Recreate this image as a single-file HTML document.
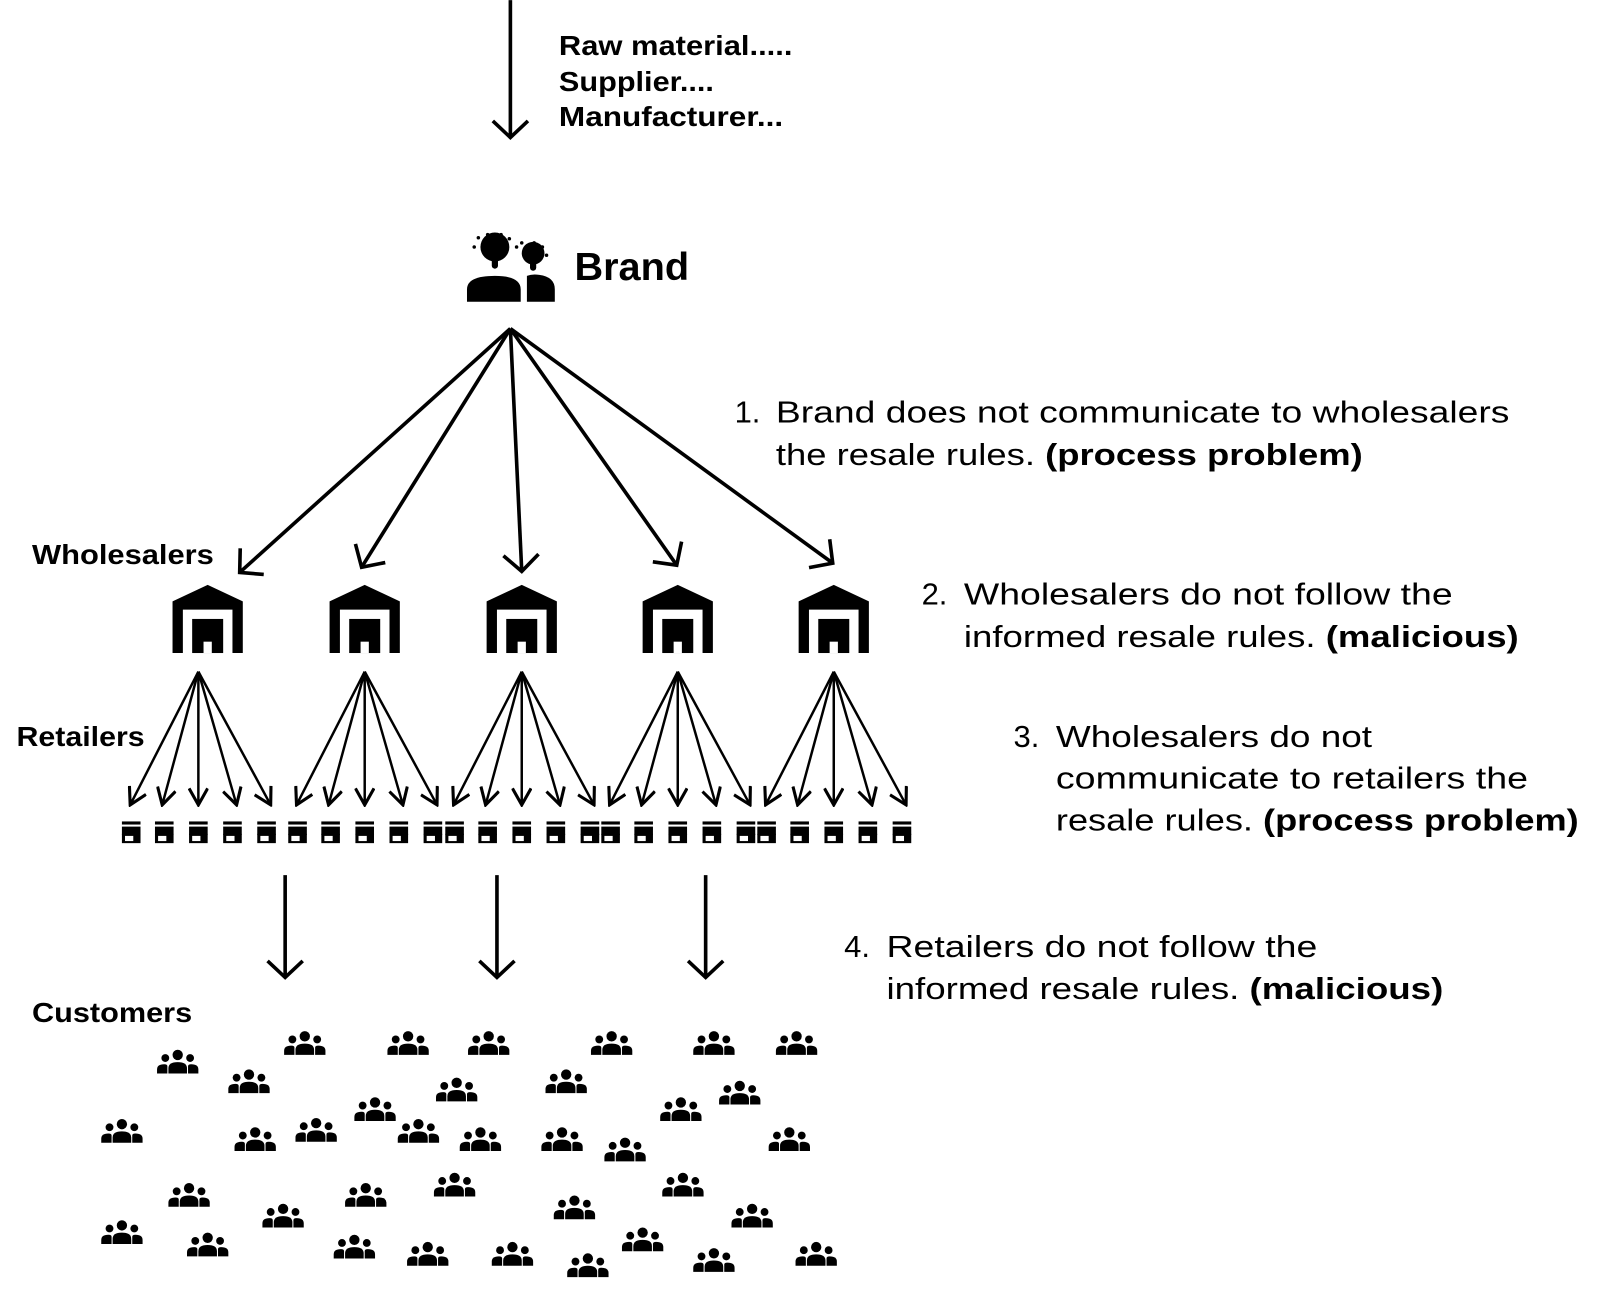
<!DOCTYPE html>
<html><head><meta charset="utf-8"><style>
html,body{margin:0;padding:0;background:#fff;}
svg{display:block;}
text{font-family:"Liberation Sans",sans-serif;fill:#000;}
.b{font-weight:bold;}
</style></head><body>
<svg width="1620" height="1304" viewBox="0 0 1568 1262" xmlns="http://www.w3.org/2000/svg">
<defs>
<g id="wh">
<path d="M-34,66 V16 L0,0 L34,16 V66 H24 V24 H-24 V66 Z" fill="#000"/>
<rect x="-15" y="33" width="30" height="33" fill="#000"/>
<rect x="-4" y="55" width="8" height="11" fill="#fff"/>
</g>
<g id="shop">
<rect x="-9" y="0" width="18" height="3" fill="#000"/>
<rect x="-9" y="5" width="18" height="8" fill="#000"/>
<rect x="-9" y="12" width="18" height="9" fill="#000"/>
<rect x="-6" y="14" width="8" height="5" fill="#fff"/>
</g>
<g id="cu">
<circle cx="0" cy="-7" r="5"/>
<circle cx="-12" cy="-4" r="3.8"/>
<circle cx="12" cy="-4" r="3.8"/>
<path d="M-9,11 V6 Q-9,0 0,0 Q9,0 9,6 V11 Z"/>
<path d="M-20,11 V7 Q-20,2 -13,2 Q-10,2 -10,4 V11 Z"/>
<path d="M20,11 V7 Q20,2 13,2 Q10,2 10,4 V11 Z"/>
</g>
<marker id="ah" viewBox="0 0 20 20" refX="18" refY="10" markerWidth="20" markerHeight="20" markerUnits="userSpaceOnUse" orient="auto">
<path d="M2,1 L18,10 L2,19" fill="none" stroke="#000" stroke-width="3"/>
</marker>
<marker id="ah2" viewBox="0 0 40 40" refX="36" refY="20" markerWidth="40" markerHeight="40" markerUnits="userSpaceOnUse" orient="auto">
<path d="M20,3 L36,20 L20,37" fill="none" stroke="#000" stroke-width="3.5"/>
</marker>
</defs>

<line x1="494" y1="0" x2="494" y2="133" stroke="#000" stroke-width="3.5" marker-end="url(#ah2)"/>
<text class="b" x="541" y="53" font-size="27" textLength="226" lengthAdjust="spacingAndGlyphs">Raw material.....</text>
<text class="b" x="541" y="88" font-size="27" textLength="150" lengthAdjust="spacingAndGlyphs">Supplier....</text>
<text class="b" x="541" y="122" font-size="27" textLength="217" lengthAdjust="spacingAndGlyphs">Manufacturer...</text>

<g fill="#000">
<circle cx="479" cy="239" r="14"/>
<rect x="476" y="248" width="6" height="12" rx="3"/>
<circle cx="516" cy="245" r="11"/>
<rect x="513" y="252" width="6" height="10" rx="3"/>
<path d="M452,292 V280 Q452,267 479,267 Q504,267 504,280 V292 Z"/>
<path d="M510,292 V267 Q515,265 522,266 Q537,268 537,280 V292 Z"/>
<circle cx="463" cy="230" r="1.7"/><circle cx="472" cy="227" r="1.7"/>
<circle cx="459" cy="239" r="1.7"/><circle cx="485" cy="227" r="1.7"/>
<circle cx="493" cy="231" r="1.7"/><circle cx="500" cy="239" r="1.7"/>
<circle cx="505" cy="235" r="1.7"/><circle cx="517" cy="235" r="1.7"/>
<circle cx="525" cy="239" r="1.7"/><circle cx="529" cy="247" r="1.7"/>
</g>
<text class="b" x="556" y="271" font-size="38" textLength="111" lengthAdjust="spacingAndGlyphs">Brand</text>

<g stroke="#000" stroke-width="3.5" marker-end="url(#ah2)">
<line x1="494" y1="318" x2="232" y2="554"/>
<line x1="494" y1="318" x2="350" y2="549"/>
<line x1="494" y1="318" x2="505" y2="553"/>
<line x1="494" y1="318" x2="655" y2="547"/>
<line x1="494" y1="318" x2="806" y2="545"/>
</g>

<text class="b" x="31" y="546" font-size="27" textLength="176" lengthAdjust="spacingAndGlyphs">Wholesalers</text>
<text class="b" x="16" y="722" font-size="27" textLength="124" lengthAdjust="spacingAndGlyphs">Retailers</text>
<text class="b" x="31" y="989" font-size="27" textLength="155" lengthAdjust="spacingAndGlyphs">Customers</text>

<use href="#wh" x="201" y="566"/>
<use href="#wh" x="353" y="566"/>
<use href="#wh" x="505" y="566"/>
<use href="#wh" x="656" y="566"/>
<use href="#wh" x="807" y="566"/>

<g id="fan" stroke="#000" stroke-width="2.4" marker-end="url(#ah)">
<line x1="192" y1="650" x2="126" y2="779"/>
<line x1="192" y1="650" x2="157" y2="779"/>
<line x1="192" y1="650" x2="192" y2="779"/>
<line x1="192" y1="650" x2="229" y2="779"/>
<line x1="192" y1="650" x2="262" y2="779"/>
</g>
<use href="#fan" x="161" y="0"/>
<use href="#fan" x="313" y="0"/>
<use href="#fan" x="464" y="0"/>
<use href="#fan" x="615" y="0"/>

<g id="shops">
<use href="#shop" x="127" y="795"/>
<use href="#shop" x="159" y="795"/>
<use href="#shop" x="192" y="795"/>
<use href="#shop" x="225" y="795"/>
<use href="#shop" x="258" y="795"/>
</g>
<use href="#shops" x="161" y="0"/>
<use href="#shops" x="313" y="0"/>
<use href="#shops" x="464" y="0"/>
<use href="#shops" x="615" y="0"/>

<g stroke="#000" stroke-width="3.5" marker-end="url(#ah2)">
<line x1="276" y1="847" x2="276" y2="946"/>
<line x1="481" y1="847" x2="481" y2="946"/>
<line x1="683" y1="847" x2="683" y2="946"/>
</g>

<g fill="#000">
<use href="#cu" x="295" y="1010"/><use href="#cu" x="395" y="1010"/><use href="#cu" x="473" y="1010"/>
<use href="#cu" x="592" y="1010"/><use href="#cu" x="691" y="1010"/><use href="#cu" x="771" y="1010"/>
<use href="#cu" x="172" y="1028"/><use href="#cu" x="241" y="1047"/><use href="#cu" x="548" y="1047"/>
<use href="#cu" x="442" y="1055"/><use href="#cu" x="716" y="1058"/><use href="#cu" x="363" y="1074"/>
<use href="#cu" x="659" y="1074"/><use href="#cu" x="118" y="1095"/><use href="#cu" x="306" y="1094"/>
<use href="#cu" x="405" y="1095"/><use href="#cu" x="247" y="1103"/><use href="#cu" x="465" y="1103"/>
<use href="#cu" x="544" y="1103"/><use href="#cu" x="605" y="1113"/><use href="#cu" x="764" y="1103"/>
<use href="#cu" x="183" y="1157"/><use href="#cu" x="440" y="1147"/><use href="#cu" x="354" y="1157"/>
<use href="#cu" x="661" y="1147"/><use href="#cu" x="556" y="1169"/><use href="#cu" x="274" y="1177"/>
<use href="#cu" x="728" y="1177"/><use href="#cu" x="118" y="1193"/><use href="#cu" x="201" y="1205"/>
<use href="#cu" x="343" y="1207"/><use href="#cu" x="414" y="1214"/><use href="#cu" x="496" y="1214"/>
<use href="#cu" x="622" y="1200"/><use href="#cu" x="569" y="1225"/><use href="#cu" x="691" y="1220"/>
<use href="#cu" x="790" y="1214"/>
</g>

<g font-size="30">
<text x="711" y="409">1.</text>
<text x="751" y="409" textLength="710" lengthAdjust="spacingAndGlyphs">Brand does not communicate to wholesalers</text>
<text x="751" y="450" textLength="568" lengthAdjust="spacingAndGlyphs">the resale rules. <tspan class="b">(process problem)</tspan></text>
<text x="892" y="585">2.</text>
<text x="933" y="585" textLength="473" lengthAdjust="spacingAndGlyphs">Wholesalers do not follow the</text>
<text x="933" y="626" textLength="537" lengthAdjust="spacingAndGlyphs">informed resale rules. <tspan class="b">(malicious)</tspan></text>
<text x="981" y="723">3.</text>
<text x="1022" y="723" textLength="306" lengthAdjust="spacingAndGlyphs">Wholesalers do not</text>
<text x="1022" y="763" textLength="457" lengthAdjust="spacingAndGlyphs">communicate to retailers the</text>
<text x="1022" y="804" textLength="506" lengthAdjust="spacingAndGlyphs">resale rules. <tspan class="b">(process problem)</tspan></text>
<text x="817" y="926">4.</text>
<text x="858" y="926" textLength="417" lengthAdjust="spacingAndGlyphs">Retailers do not follow the</text>
<text x="858" y="967" textLength="539" lengthAdjust="spacingAndGlyphs">informed resale rules. <tspan class="b">(malicious)</tspan></text>
</g>
</svg>
</body></html>
